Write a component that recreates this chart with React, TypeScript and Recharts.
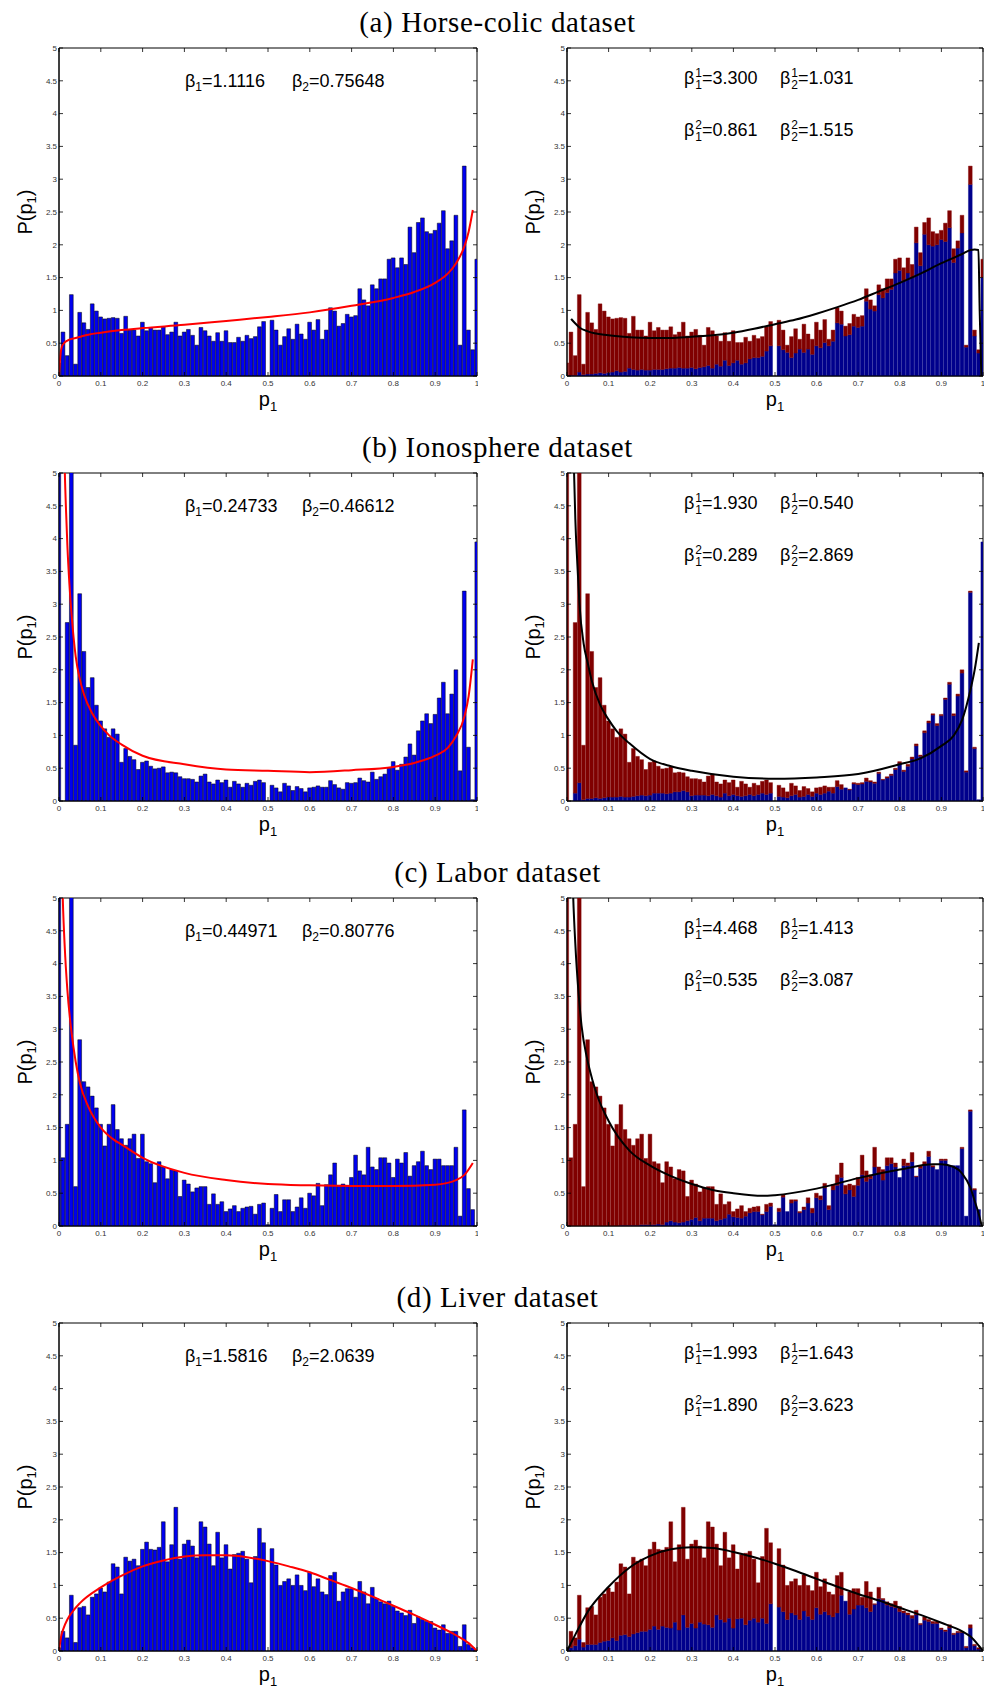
import React from "react";
import { Bar, ComposedChart, Line, ReferenceArea, XAxis, YAxis } from "recharts";

// bin centres 0, 0.01, ... 1 (hist over 0:0.01:1)
const BINS = Array.from({ length: 101 }, (_, k) => Math.round(k) / 100);
const X_TICKS = [0, 0.1, 0.2, 0.3, 0.4, 0.5, 0.6, 0.7, 0.8, 0.9, 1];
const Y_TICKS = [0, 0.5, 1, 1.5, 2, 2.5, 3, 3.5, 4, 4.5, 5];

const TITLES = ["(a) Horse-colic dataset", "(b) Ionosphere dataset", "(c) Labor dataset", "(d) Liver dataset"];

// histogram heights (left panels, also the stacked totals on the right)
const HIST_A = [
  0.2, 0.67, 0.31, 1.24, 0.18, 0.97, 0.81, 0.71, 1.1, 0.99, 0.9, 0.87, 0.88, 0.89, 0.88, 0.65, 0.91, 0.7, 0.7, 0.61,
  0.82, 0.69, 0.74, 0.7, 0.7, 0.75, 0.63, 0.67, 0.82, 0.61, 0.67, 0.71, 0.62, 0.47, 0.74, 0.69, 0.61, 0.53, 0.66, 0.53,
  0.69, 0.51, 0.51, 0.59, 0.53, 0.62, 0.57, 0.6, 0.75, 0.83, 0,
  0.85, 0.7, 0.47, 0.6, 0.72, 0.56, 0.79, 0.64, 0.56, 0.82, 0.7, 0.86, 0.56, 0.7, 1.04, 0.99, 0.76, 0.8, 0.94, 0.9,
  0.92, 1.33, 1.16, 1.07, 1.39, 1.33, 1.48, 1.48, 1.78, 1.8, 1.65, 1.8, 1.7, 2.27, 1.88, 2.34, 2.41, 2.2, 2.17, 2.22,
  2.33, 2.52, 1.94, 2.06, 2.45, 0.47, 3.2, 0.7, 0.4, 1.78,
];
const HIST_B = [
  6, 0, 2.72, 6, 0.85, 3.16, 2.28, 1.73, 1.88, 1.46, 1.22, 1.1, 0.97, 1.1, 1.02, 0.59, 0.8, 0.68, 0.63, 0.48,
  0.59, 0.61, 0.53, 0.49, 0.5, 0.52, 0.43, 0.44, 0.43, 0.37, 0.34, 0.34, 0.33, 0.29, 0.38, 0.41, 0.29, 0.26, 0.32, 0.28,
  0.32, 0.21, 0.3, 0.26, 0.21, 0.27, 0.24, 0.3, 0.32, 0.28, 0,
  0.24, 0.2, 0.14, 0.27, 0.23, 0.16, 0.22, 0.19, 0.14, 0.2, 0.21, 0.23, 0.21, 0.21, 0.31, 0.25, 0.2, 0.18, 0.28, 0.27,
  0.28, 0.35, 0.31, 0.29, 0.44, 0.33, 0.37, 0.41, 0.5, 0.6, 0.47, 0.56, 0.67, 0.87, 0.7, 1.07, 1.22, 1.33, 1.18, 1.32,
  1.57, 1.81, 1.33, 1.63, 2.0, 0.46, 3.2, 0.82, 0.02, 3.95,
];
const HIST_C = [
  6, 1.04, 1.55, 6, 0.6, 2.84, 2.2, 2.12, 1.98, 1.8, 1.55, 1.22, 1.55, 1.85, 1.47, 1.33, 1.23, 1.33, 1.4, 1.03,
  1.4, 0.98, 0.95, 0.66, 0.98, 0.9, 0.72, 0.86, 0.84, 0.45, 0.7, 0.64, 0.52, 0.58, 0.6, 0.6, 0.33, 0.49, 0.33, 0.37,
  0.22, 0.26, 0.31, 0.22, 0.27, 0.29, 0.3, 0.18, 0.33, 0.35, 0.02,
  0.27, 0.48, 0.22, 0.4, 0.4, 0.22, 0.29, 0.43, 0.27, 0.5, 0.46, 0.65, 0.31, 0.63, 0.78, 0.96, 0.62, 0.64, 0.62, 0.74,
  1.08, 0.84, 0.78, 1.2, 0.9, 0.86, 1.04, 1.04, 0.96, 0.74, 1.02, 0.96, 1.12, 0.76, 0.92, 0.98, 1.14, 0.92, 0.86, 1.02,
  1.02, 0.92, 0.92, 0.92, 1.2, 0.15, 1.77, 0.57, 0.25, 0,
];
const HIST_D = [
  0.05, 0.3, 0.2, 0.85, 0.13, 0.66, 0.68, 0.55, 0.82, 0.87, 0.96, 0.9, 1.05, 1.33, 1.28, 0.87, 1.43, 1.37, 1.4, 1.3,
  1.55, 1.66, 1.55, 1.54, 1.58, 1.97, 1.36, 1.62, 2.19, 1.4, 1.63, 1.69, 1.6, 1.42, 1.97, 1.89, 1.63, 1.3, 1.81, 1.42,
  1.62, 1.25, 1.47, 1.49, 1.52, 1.4, 1.04, 1.44, 1.87, 1.65, 0,
  1.56, 1.31, 1.0, 1.06, 1.1, 1.0, 1.16, 1.0, 0.92, 1.2, 0.98, 1.1, 0.9, 0.86, 1.15, 1.2, 0.76, 0.9, 0.95, 0.95,
  0.82, 1.06, 0.9, 0.72, 0.97, 0.8, 0.75, 0.72, 0.76, 0.68, 0.61, 0.58, 0.54, 0.62, 0.42, 0.52, 0.48, 0.45, 0.45, 0.35,
  0.32, 0.4, 0.27, 0.3, 0.3, 0.07, 0.4, 0.1, 0.05, 0,
];

// blue (lower) part of the stacked bars, right panels
const BLUE_A = [
  0, 0.01, 0.01, 0.06, 0.02, 0.03, 0.03, 0.04, 0.05, 0.04, 0.05, 0.06, 0.08, 0.06, 0.07, 0.12, 0.1, 0.09, 0.1, 0.09,
  0.09, 0.1, 0.1, 0.1, 0.11, 0.12, 0.12, 0.13, 0.12, 0.12, 0.13, 0.11, 0.13, 0.14, 0.16, 0.12, 0.18, 0.15, 0.24, 0.16,
  0.2, 0.24, 0.18, 0.2, 0.26, 0.28, 0.28, 0.3, 0.38, 0.46, 0,
  0.46, 0.4, 0.36, 0.28, 0.35, 0.41, 0.36, 0.41, 0.33, 0.46, 0.43, 0.51, 0.46, 0.53, 0.81, 0.79, 0.61, 0.63, 0.76, 0.74,
  0.76, 1.14, 1.02, 0.99, 1.24, 1.19, 1.27, 1.32, 1.57, 1.61, 1.45, 1.57, 1.5, 2.03, 1.68, 2.16, 2.0, 1.98, 2.0, 2.08,
  2.05, 2.26, 1.73, 1.95, 2.18, 0.44, 2.92, 0.61, 0.35, 1.5,
];
const BLUE_B = [
  0, 0, 0.12, 0.28, 0.02, 0.04, 0.04, 0.05, 0.04, 0.05, 0.06, 0.06, 0.06, 0.07, 0.06, 0.06, 0.07, 0.08, 0.09, 0.08,
  0.09, 0.12, 0.12, 0.12, 0.11, 0.12, 0.14, 0.14, 0.16, 0.14, 0.08, 0.09, 0.09, 0.09, 0.08, 0.1, 0.08, 0.06, 0.12, 0.08,
  0.1, 0.08, 0.07, 0.08, 0.1, 0.08, 0.1, 0.12, 0.1, 0.12, 0,
  0.07, 0.06, 0.05, 0.08, 0.1, 0.06, 0.07, 0.1, 0.07, 0.12, 0.1, 0.12, 0.15, 0.12, 0.22, 0.18, 0.2, 0.17, 0.26, 0.25,
  0.26, 0.3, 0.29, 0.27, 0.42, 0.32, 0.35, 0.39, 0.48, 0.57, 0.45, 0.53, 0.64, 0.84, 0.68, 1.04, 1.19, 1.31, 1.15, 1.3,
  1.55, 1.78, 1.3, 1.6, 1.95, 0.44, 3.18, 0.8, 0.02, 3.95,
];
const BLUE_C = [
  0, 0, 0, 0, 0, 0, 0, 0, 0, 0, 0, 0, 0, 0.01, 0.01, 0.01, 0.01, 0.01, 0.02, 0.02,
  0.02, 0.02, 0.03, 0.02, 0.06, 0.08, 0.06, 0.05, 0.06, 0.08, 0.1, 0.13, 0.08, 0.12, 0.12, 0.12, 0.08, 0.1, 0.12, 0.18,
  0.14, 0.13, 0.12, 0.15, 0.2, 0.22, 0.22, 0.17, 0.22, 0.3, 0.02,
  0.22, 0.44, 0.22, 0.35, 0.38, 0.2, 0.25, 0.35, 0.2, 0.43, 0.4, 0.58, 0.25, 0.55, 0.62, 0.74, 0.49, 0.55, 0.45, 0.62,
  0.78, 0.68, 0.72, 0.9, 0.8, 0.7, 0.92, 0.95, 0.9, 0.74, 0.92, 0.92, 0.98, 0.75, 0.88, 0.93, 1.06, 0.9, 0.86, 1.0,
  1.0, 0.92, 0.92, 0.92, 1.18, 0.15, 1.75, 0.55, 0.25, 0,
];
const BLUE_D = [
  0.02, 0.05, 0.08, 0.18, 0.06, 0.1, 0.1, 0.1, 0.13, 0.15, 0.16, 0.2, 0.16, 0.24, 0.25, 0.22, 0.26, 0.28, 0.3, 0.3,
  0.33, 0.38, 0.33, 0.38, 0.36, 0.35, 0.44, 0.32, 0.55, 0.36, 0.42, 0.35, 0.44, 0.41, 0.4, 0.36, 0.55, 0.48, 0.44, 0.5,
  0.35, 0.49, 0.5, 0.4, 0.47, 0.5, 0.44, 0.5, 0.42, 0.72, 0,
  0.67, 0.6, 0.48, 0.58, 0.55, 0.48, 0.61, 0.53, 0.48, 0.66, 0.56, 0.6, 0.55, 0.52, 0.58, 0.85, 0.88, 0.56, 0.64, 0.7,
  0.7, 0.66, 0.6, 0.71, 0.8, 0.78, 0.7, 0.68, 0.66, 0.6, 0.58, 0.55, 0.5, 0.55, 0.4, 0.47, 0.45, 0.42, 0.42, 0.33,
  0.3, 0.35, 0.25, 0.28, 0.28, 0.05, 0.35, 0.08, 0.03, 0,
];

// fitted densities
const FIT_A_X = [0, 0.003, 0.007, 0.012, 0.02, 0.04, 0.07, 0.1, 0.15, 0.2, 0.3, 0.4, 0.5, 0.6, 0.7, 0.8, 0.85, 0.9, 0.93, 0.95, 0.97, 0.98, 0.99];
const FIT_A_Y = [0, 0.3, 0.45, 0.5, 0.54, 0.58, 0.63, 0.66, 0.7, 0.73, 0.78, 0.84, 0.9, 0.97, 1.07, 1.19, 1.28, 1.42, 1.56, 1.72, 1.98, 2.2, 2.53];
const MIX_A_X = [0.01, 0.02, 0.03, 0.05, 0.1, 0.15, 0.2, 0.25, 0.3, 0.35, 0.4, 0.45, 0.5, 0.55, 0.6, 0.65, 0.7, 0.75, 0.8, 0.85, 0.9, 0.95, 0.97, 0.98, 0.989, 0.992, 0.996];
const MIX_A_Y = [0.87, 0.8, 0.74, 0.68, 0.62, 0.59, 0.58, 0.58, 0.6, 0.62, 0.66, 0.72, 0.79, 0.86, 0.95, 1.05, 1.16, 1.29, 1.42, 1.56, 1.72, 1.86, 1.92, 1.93, 1.92, 1.0, 0];

const FIT_B_X = [0.012, 0.014, 0.017, 0.02, 0.025, 0.03, 0.04, 0.05, 0.06, 0.08, 0.1, 0.12, 0.15, 0.2, 0.3, 0.4, 0.5, 0.6, 0.7, 0.8, 0.85, 0.9, 0.93, 0.95, 0.97, 0.98, 0.99];
const FIT_B_Y = [5.6, 5.0, 4.4, 3.9, 3.3, 2.85, 2.2, 1.85, 1.62, 1.33, 1.14, 1.0, 0.86, 0.69, 0.56, 0.48, 0.46, 0.44, 0.47, 0.52, 0.58, 0.69, 0.81, 0.99, 1.29, 1.6, 2.16];
const MIX_B_X = [0.015, 0.017, 0.02, 0.025, 0.03, 0.04, 0.05, 0.06, 0.08, 0.1, 0.12, 0.15, 0.2, 0.25, 0.3, 0.4, 0.5, 0.6, 0.7, 0.8, 0.85, 0.9, 0.93, 0.95, 0.97, 0.98, 0.99];
const MIX_B_Y = [5.6, 5.0, 4.3, 3.6, 3.0, 2.4, 2.1, 1.82, 1.46, 1.24, 1.06, 0.88, 0.64, 0.53, 0.46, 0.37, 0.34, 0.36, 0.41, 0.56, 0.65, 0.84, 1.0, 1.24, 1.7, 2.0, 2.41];

const FIT_C_X = [0.008, 0.01, 0.015, 0.02, 0.03, 0.04, 0.05, 0.07, 0.1, 0.13, 0.15, 0.2, 0.3, 0.4, 0.5, 0.6, 0.7, 0.8, 0.9, 0.95, 0.97, 0.99];
const FIT_C_Y = [5.2, 4.8, 4.1, 3.6, 2.95, 2.5, 2.18, 1.82, 1.5, 1.32, 1.24, 1.04, 0.81, 0.7, 0.64, 0.62, 0.61, 0.61, 0.63, 0.7, 0.78, 0.96];
const MIX_C_X = [0.013, 0.015, 0.02, 0.028, 0.035, 0.048, 0.06, 0.072, 0.1, 0.15, 0.2, 0.25, 0.3, 0.35, 0.4, 0.47, 0.5, 0.6, 0.7, 0.8, 0.88, 0.9, 0.93, 0.95, 0.97, 0.98, 0.99, 0.997];
const MIX_C_Y = [5.4, 5.0, 4.3, 3.53, 3.05, 2.56, 2.25, 2.0, 1.6, 1.15, 0.92, 0.76, 0.64, 0.55, 0.5, 0.46, 0.47, 0.57, 0.73, 0.86, 0.94, 0.94, 0.9, 0.8, 0.58, 0.38, 0.18, 0];

const FIT_D_X = [0, 0.005, 0.01, 0.02, 0.03, 0.05, 0.1, 0.15, 0.2, 0.25, 0.3, 0.35, 0.4, 0.45, 0.5, 0.55, 0.6, 0.65, 0.7, 0.75, 0.8, 0.85, 0.9, 0.95, 0.98, 1.0];
const FIT_D_Y = [0, 0.22, 0.33, 0.48, 0.58, 0.73, 0.97, 1.15, 1.29, 1.38, 1.44, 1.46, 1.46, 1.43, 1.37, 1.29, 1.2, 1.08, 0.96, 0.83, 0.69, 0.55, 0.4, 0.24, 0.12, 0];
const MIX_D_X = [0, 0.02, 0.05, 0.1, 0.15, 0.2, 0.25, 0.3, 0.35, 0.4, 0.45, 0.5, 0.55, 0.6, 0.65, 0.7, 0.75, 0.8, 0.85, 0.9, 0.95, 0.97, 0.99, 1.0];
const MIX_D_Y = [0, 0.25, 0.6, 0.98, 1.27, 1.45, 1.55, 1.58, 1.57, 1.51, 1.43, 1.33, 1.22, 1.1, 0.98, 0.87, 0.77, 0.66, 0.55, 0.43, 0.3, 0.22, 0.08, 0];

const BETA_LEFT = [
  ["1.1116", "0.75648"],
  ["0.24733", "0.46612"],
  ["0.44971", "0.80776"],
  ["1.5816", "2.0639"],
];
const BETA_RIGHT = [
  ["3.300", "1.031", "0.861", "1.515"],
  ["1.930", "0.540", "0.289", "2.869"],
  ["4.468", "1.413", "0.535", "3.087"],
  ["1.993", "1.643", "1.890", "3.623"],
];

const HISTS = [HIST_A, HIST_B, HIST_C, HIST_D];
const BLUES = [BLUE_A, BLUE_B, BLUE_C, BLUE_D];
const FITS = [[FIT_A_X, FIT_A_Y], [FIT_B_X, FIT_B_Y], [FIT_C_X, FIT_C_Y], [FIT_D_X, FIT_D_Y]];
const MIXES = [[MIX_A_X, MIX_A_Y], [MIX_B_X, MIX_B_Y], [MIX_C_X, MIX_C_Y], [MIX_D_X, MIX_D_Y]];

// layout
const PLOT_TOP = [48, 473, 898, 1323];
const TITLE_Y = [22, 447, 872, 1297];
const PH = 328;
const LX = 59;
const LW = 418;
const RX = 567;
const RW = 416;
const YW = 40;
const XH = 20;
const MT = 10;
const NAVY = "#00008c";
const MAROON = "#800000";
const SANS = "'Liberation Sans', Arial, sans-serif";
const SERIF = "'Liberation Serif', 'Times New Roman', serif";

type Pt = { x: number; y: number };

function Panel({ left, top, w, rows, curve, stacked }: { left: number; top: number; w: number; rows: any[]; curve: Pt[]; stacked: boolean }) {
  const xTick = (p: any) => {
    const base = p.y - 4;
    return (
      <g>
        <line x1={p.x} x2={p.x} y1={base} y2={base - 4} stroke="#000" strokeWidth={0.8} />
        <line x1={p.x} x2={p.x} y1={base - PH} y2={base - PH + 4} stroke="#000" strokeWidth={0.8} />
        <text x={p.x} y={p.y} dy="0.75em" textAnchor="middle" fontSize={8} fill="#333" fontFamily={SANS}>
          {String(p.payload.value)}
        </text>
      </g>
    );
  };
  const yTick = (p: any) => {
    const base = p.x + 2;
    return (
      <g>
        <line x1={base} x2={base + 4} y1={p.y} y2={p.y} stroke="#000" strokeWidth={0.8} />
        <line x1={base + w - 4} x2={base + w} y1={p.y} y2={p.y} stroke="#000" strokeWidth={0.8} />
        <text x={p.x} y={p.y} dy="0.35em" textAnchor="end" fontSize={8} fill="#333" fontFamily={SANS}>
          {String(p.payload.value)}
        </text>
      </g>
    );
  };
  const bw = w / 100;
  return (
    <div style={{ position: "absolute", left: left - YW, top: top - MT }}>
      <ComposedChart
        width={YW + w + 1}
        height={MT + PH + XH}
        data={rows}
        margin={{ top: MT, right: 1, bottom: 0, left: 0 }}
        barGap={0}
        barCategoryGap={0}
      >
        <XAxis
          dataKey="x"
          type="number"
          domain={[0, 1]}
          allowDataOverflow
          ticks={X_TICKS}
          interval={0}
          height={XH}
          tickSize={0}
          tickMargin={4}
          tick={xTick}
          axisLine={{ stroke: "#000" }}
        />
        <XAxis xAxisId="fit" dataKey="x" type="number" domain={[0, 1]} allowDataOverflow hide />
        <YAxis
          type="number"
          domain={[0, 5]}
          allowDataOverflow
          ticks={Y_TICKS}
          interval={0}
          width={YW}
          tickSize={0}
          tickMargin={2}
          tick={yTick}
          axisLine={{ stroke: "#000" }}
        />
        {stacked ? (
          <Bar dataKey="blue" stackId="s" fill={NAVY} stroke={NAVY} strokeWidth={0.4} barSize={bw} isAnimationActive={false} />
        ) : (
          <Bar dataKey="tot" fill="#0000f0" stroke="#000" strokeWidth={0.5} barSize={bw} isAnimationActive={false} />
        )}
        {stacked && <Bar dataKey="red" stackId="s" fill={MAROON} stroke={MAROON} strokeWidth={0.4} barSize={bw} isAnimationActive={false} />}
        <ReferenceArea x1={0} x2={1} y1={0} y2={5} fill="none" stroke="#000" strokeWidth={1} fillOpacity={0} />
        <Line
          xAxisId="fit"
          data={curve}
          dataKey="y"
          type="monotone"
          stroke={stacked ? "#000" : "#ff0000"}
          strokeWidth={2}
          dot={false}
          activeDot={false}
          isAnimationActive={false}
        />
      </ComposedChart>
    </div>
  );
}

function BetaSub({ i, v }: { i: number; v: string }) {
  return (
    <span>
      β<sub style={{ fontSize: 12, verticalAlign: -4, lineHeight: 0 }}>{i}</sub>={v}
    </span>
  );
}

function BetaSupSub({ sup, sub, v }: { sup: number; sub: number; v: string }) {
  return (
    <span style={{ display: "inline-flex", alignItems: "center" }}>
      β
      <span style={{ display: "inline-flex", flexDirection: "column", fontSize: 12, lineHeight: "12px", marginLeft: 1, marginTop: 2 }}>
        <span>{sup}</span>
        <span>{sub}</span>
      </span>
      ={v}
    </span>
  );
}

function AxisLabels({ plotX, w, top }: { plotX: number; w: number; top: number }) {
  return (
    <>
      <div
        style={{
          position: "absolute",
          left: plotX - 34 - 40,
          top: top + PH / 2 - 12,
          width: 80,
          textAlign: "center",
          transform: "rotate(-90deg)",
          fontFamily: SANS,
          fontSize: 20,
          lineHeight: "24px",
          whiteSpace: "nowrap",
        }}
      >
        P(p<sub style={{ fontSize: 13, verticalAlign: -4, lineHeight: 0 }}>1</sub>)
      </div>
      <div
        style={{
          position: "absolute",
          left: plotX + w / 2 - 30,
          top: top + PH + 11,
          width: 60,
          textAlign: "center",
          fontFamily: SANS,
          fontSize: 20,
          lineHeight: "24px",
        }}
      >
        p<sub style={{ fontSize: 13, verticalAlign: -5, lineHeight: 0 }}>1</sub>
      </div>
    </>
  );
}

export default function App() {
  return (
    <div style={{ position: "relative", width: 984, height: 1690, overflow: "hidden", background: "#fff" }}>
      <style>{"body{margin:0}"}</style>
      {TITLES.map((title, r) => {
        const top = PLOT_TOP[r];
        const hist = HISTS[r];
        const blue = BLUES[r];
        const rows = BINS.map((x, k) => {
          const b = Math.min(blue[k], hist[k]);
          return { x, tot: hist[k], blue: b, red: Math.max(0, hist[k] - b) };
        });
        const fit = FITS[r][0].map((x, i) => ({ x, y: FITS[r][1][i] }));
        const mix = MIXES[r][0].map((x, i) => ({ x, y: MIXES[r][1][i] }));
        const bl = BETA_LEFT[r];
        const br = BETA_RIGHT[r];
        const secondX = r === 1 || r === 2 ? 302 : 292;
        return (
          <React.Fragment key={title}>
            <div
              style={{
                position: "absolute",
                left: 0,
                width: 995,
                top: TITLE_Y[r] - 17,
                textAlign: "center",
                fontFamily: SERIF,
                fontSize: 29,
                letterSpacing: 0.6,
                lineHeight: "34px",
              }}
            >
              {title}
            </div>
            <Panel left={LX} top={top} w={LW} rows={rows} curve={fit} stacked={false} />
            <Panel left={RX} top={top} w={RW} rows={rows} curve={mix} stacked />
            <AxisLabels plotX={LX} w={LW} top={top} />
            <AxisLabels plotX={RX} w={RW} top={top} />
            <div style={{ position: "absolute", left: 185, top: top + 33 - 11, fontFamily: SANS, fontSize: 18, lineHeight: "22px", whiteSpace: "nowrap" }}>
              <BetaSub i={1} v={bl[0]} />
            </div>
            <div style={{ position: "absolute", left: secondX, top: top + 33 - 11, fontFamily: SANS, fontSize: 18, lineHeight: "22px", whiteSpace: "nowrap" }}>
              <BetaSub i={2} v={bl[1]} />
            </div>
            {[0, 1].map((line) => (
              <React.Fragment key={line}>
                <div style={{ position: "absolute", left: 684, top: top + (line ? 82 : 30) - 13, fontFamily: SANS, fontSize: 18, lineHeight: "26px", whiteSpace: "nowrap" }}>
                  <BetaSupSub sup={line + 1} sub={1} v={br[line * 2]} />
                </div>
                <div style={{ position: "absolute", left: 780, top: top + (line ? 82 : 30) - 13, fontFamily: SANS, fontSize: 18, lineHeight: "26px", whiteSpace: "nowrap" }}>
                  <BetaSupSub sup={line + 1} sub={2} v={br[line * 2 + 1]} />
                </div>
              </React.Fragment>
            ))}
          </React.Fragment>
        );
      })}
    </div>
  );
}
